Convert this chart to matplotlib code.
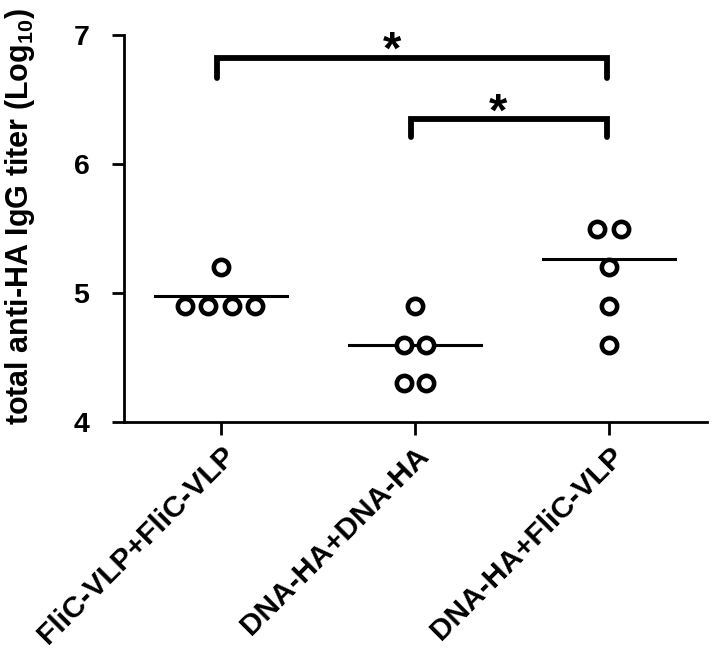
import os
import numpy as np
import matplotlib
matplotlib.use('Agg')
from matplotlib import pyplot as plt
from matplotlib import font_manager as fm

# Group names and individual log10 titers
groups = ['FliC-VLP+FliC-VLP', 'DNA-HA+DNA-HA', 'DNA-HA+FliC-VLP']
titers = [
    [5.2, 4.9, 4.9, 4.9, 4.9],
    [4.9, 4.6, 4.6, 4.3, 4.3],
    [5.5, 5.5, 5.2, 4.9, 4.6],
]
# horizontal jitter (in group widths) so overlapping circles sit side by side
jitter = [
    [0.0, -0.185, -0.065, 0.058, 0.175],
    [0.0, -0.057, 0.057, -0.057, 0.057],
    [-0.064, 0.064, 0.0, 0.0, 0.0],
]
# significance brackets: (left group, right group, bar height, leg bottom, star x, star y, label)
brackets = [(0, 2, 6.82, 6.67, 0.88, 6.98, '*'),
            (1, 2, 6.35, 6.21, 1.43, 6.50, '*')]

# pin the regular-width bold Arial clone
paths = [f.fname for f in fm.fontManager.ttflist
         if os.path.basename(f.fname) == 'LiberationSans-Bold.ttf']
if paths:
    def bold(size):
        return fm.FontProperties(fname=paths[0], size=size)
else:
    def bold(size):
        return fm.FontProperties(family='Liberation Sans', weight='bold', size=size)

plt.rcParams['mathtext.default'] = 'regular'

fig = plt.figure(figsize=(7.16, 6.54), dpi=100)
ax = fig.add_axes([0.1732, 0.3547, 0.8142, 0.5917])

for i, vals in enumerate(titers):
    xs = i + np.array(jitter[i])
    ax.plot(xs, vals, 'o', ms=11, mfc='white', mec='black', mew=3.3,
            clip_on=False, zorder=3)
    # line at log10 of the mean titer
    gm = np.log10(np.mean(10 ** np.array(vals)))
    ax.plot([i - 0.34, i + 0.34], [gm, gm], color='black', lw=2.2, zorder=2)

for a, b, top, leg, sx, sy, lab in brackets:
    a, b = a - 0.02, b - 0.01
    ax.plot([a, a, b, b], [leg, top, top, leg], color='black', lw=4.2,
            solid_capstyle='round', solid_joinstyle='miter', clip_on=False)
    # asterisk glyph sits high in the em box, so shift baseline down
    ax.text(sx, sy - 0.2, lab, ha='center', va='baseline',
            fontproperties=bold(34))

ax.set_xlim(-0.5, 2.505)
ax.set_ylim(4, 7)
ax.set_yticks([4, 5, 6, 7])
ax.set_xticks(range(len(groups)))
ax.set_xticklabels(groups, rotation=45, ha='right', va='top',
                   rotation_mode='anchor')
for lbl in ax.get_xticklabels():
    lbl.set_fontproperties(bold(21.5))
ax.set_yticklabels(['4', '5', '6', '7'])
for lbl in ax.get_yticklabels():
    lbl.set_fontproperties(bold(20.5))
ax.tick_params(axis='y', width=2.0, length=9, pad=16)
ax.tick_params(axis='x', width=2.0, length=9, pad=5)

ax.spines['top'].set_visible(False)
ax.spines['right'].set_visible(False)
ax.spines['left'].set_linewidth(2.0)
ax.spines['bottom'].set_linewidth(2.0)

ax.set_ylabel('total anti-HA IgG titer (Log$_{10}$)', fontproperties=bold(22))
ax.yaxis.set_label_coords(-0.149, 0.53)

fig.savefig('out.png', dpi=100)
